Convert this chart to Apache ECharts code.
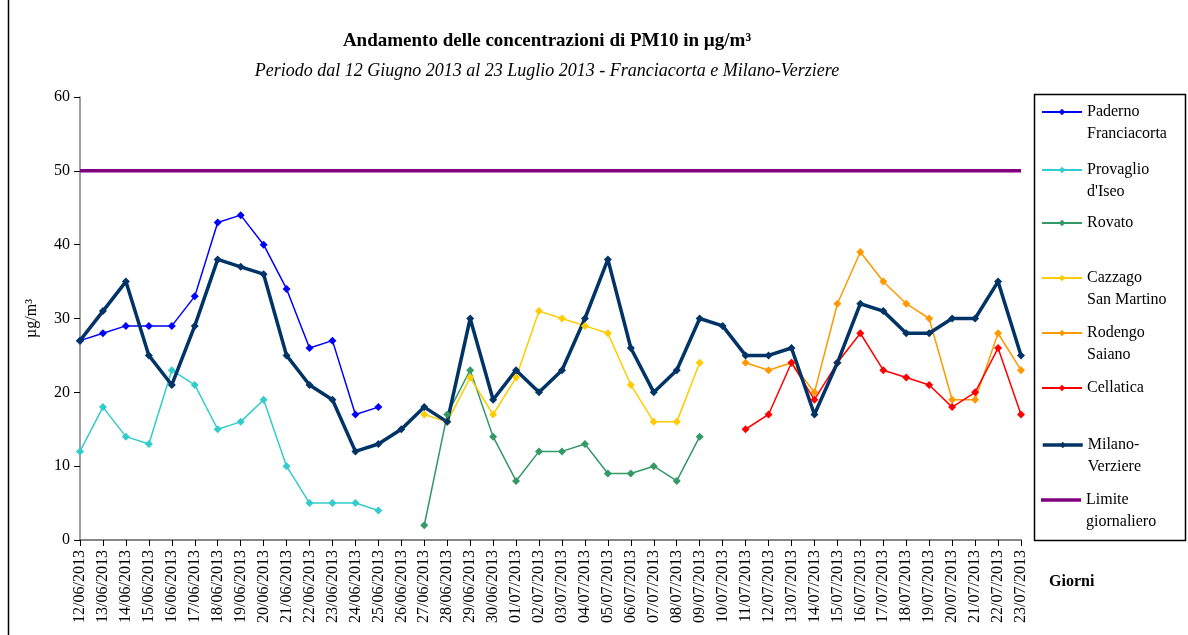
<!DOCTYPE html>
<html>
<head>
<meta charset="utf-8">
<script src="https://cdn.jsdelivr.net/npm/echarts@6/dist/echarts.min.js"></script>
<style>
  html, body { margin: 0; padding: 0; background: #fff; }
  #chartWrapper { width: 1188px; height: 635px; }
</style>
</head>
<body>
<div id="chartWrapper"></div>
<script>
// giorni 12/06/2013 - 23/07/2013
const giorni = [
    '12/06/2013', '13/06/2013', '14/06/2013', '15/06/2013', '16/06/2013', '17/06/2013', '18/06/2013',
    '19/06/2013', '20/06/2013', '21/06/2013', '22/06/2013', '23/06/2013', '24/06/2013', '25/06/2013',
    '26/06/2013', '27/06/2013', '28/06/2013', '29/06/2013', '30/06/2013', '01/07/2013', '02/07/2013',
    '03/07/2013', '04/07/2013', '05/07/2013', '06/07/2013', '07/07/2013', '08/07/2013', '09/07/2013',
    '10/07/2013', '11/07/2013', '12/07/2013', '13/07/2013', '14/07/2013', '15/07/2013', '16/07/2013',
    '17/07/2013', '18/07/2013', '19/07/2013', '20/07/2013', '21/07/2013', '22/07/2013', '23/07/2013'
];

const _ = null;
const paderno   = [27, 28, 29, 29, 29, 33, 43, 44, 40, 34, 26, 27, 17, 18, _, _, _, _, _, _, _, _, _, _, _, _, _, _, _, _, _, _, _, _, _, _, _, _, _, _, _, _];
const provaglio = [12, 18, 14, 13, 23, 21, 15, 16, 19, 10, 5, 5, 5, 4, _, _, _, _, _, _, _, _, _, _, _, _, _, _, _, _, _, _, _, _, _, _, _, _, _, _, _, _];
const rovato    = [_, _, _, _, _, _, _, _, _, _, _, _, _, _, _, 2, 17, 23, 14, 8, 12, 12, 13, 9, 9, 10, 8, 14, _, _, _, _, _, _, _, _, _, _, _, _, _, _];
const cazzago   = [_, _, _, _, _, _, _, _, _, _, _, _, _, _, _, 17, 16, 22, 17, 22, 31, 30, 29, 28, 21, 16, 16, 24, _, _, _, _, _, _, _, _, _, _, _, _, _, _];
const rodengo   = [_, _, _, _, _, _, _, _, _, _, _, _, _, _, _, _, _, _, _, _, _, _, _, _, _, _, _, _, _, 24, 23, 24, 20, 32, 39, 35, 32, 30, 19, 19, 28, 23];
const cellatica = [_, _, _, _, _, _, _, _, _, _, _, _, _, _, _, _, _, _, _, _, _, _, _, _, _, _, _, _, _, 15, 17, 24, 19, 24, 28, 23, 22, 21, 18, 20, 26, 17];
const milano    = [27, 31, 35, 25, 21, 29, 38, 37, 36, 25, 21, 19, 12, 13, 15, 18, 16, 30, 19, 23, 20, 23, 30, 38, 26, 20, 23, 30,
                   29, 25, 25, 26, 17, 24, 32, 31, 28, 28, 30, 30, 35, 25];
const limite    = giorni.map(function () { return 50; });

const yTicks = [0, 10, 20, 30, 40, 50, 60];

const serif = '"Liberation Serif", "DejaVu Serif", serif';

let myChart = echarts.init(document.getElementById('chartWrapper'));

function lineSeries(name, data, color, width) {
    return {
        name: name,
        type: 'line',
        data: data,
        symbol: 'diamond',
        symbolSize: 8,
        showSymbol: true,
        connectNulls: false,
        itemStyle: { color: color },
        lineStyle: { color: color, width: width },
        emphasis: { disabled: true },
        animation: false
    };
}

let seriesData = [
    lineSeries('Paderno\nFranciacorta', paderno, '#0000ff', 1.5),
    lineSeries("Provaglio\nd'Iseo", provaglio, '#33cccc', 1.5),
    lineSeries('Rovato', rovato, '#339966', 1.5),
    lineSeries('Cazzago\nSan Martino', cazzago, '#ffcc00', 1.5),
    lineSeries('Rodengo\nSaiano', rodengo, '#ff9900', 1.5),
    lineSeries('Cellatica', cellatica, '#ff0000', 1.5),
    lineSeries('Milano-\nVerziere', milano, '#003366', 3.5),
    {
        name: 'Limite\ngiornaliero',
        type: 'line',
        data: limite,
        symbol: 'none',
        itemStyle: { color: '#800080' },
        lineStyle: { color: '#800080', width: 3.5 },
        z: 1,
        animation: false
    }
];

// una legenda per voce, per avere la spaziatura uguale del grafico originale
const legendY = [112, 170, 223, 278, 333, 388, 445, 500];
const lineH = 22;
let legends = seriesData.map(function (s, i) {
    let twoLines = s.name.indexOf('\n') >= 0;
    let isLimit = i === seriesData.length - 1;
    let lg = {
        data: [s.name],
        orient: 'vertical',
        left: 1041,
        top: legendY[i] - (twoLines ? 1.5 * lineH : 0.5 * lineH),
        padding: 0,
        itemWidth: 40,
        itemHeight: isLimit ? 3.5 : 8,
        itemGap: 0,
        selectedMode: false,
        // riga vuota davanti: la prima riga del testo resta allineata al simbolo
        formatter: function (name) {
            return name.indexOf('\n') >= 0 ? ' \n' + name : name;
        },
        textStyle: {
            fontFamily: serif,
            fontSize: 16,
            color: '#000',
            lineHeight: lineH
        }
    };
    if (isLimit) lg.icon = 'rect';
    if (i === 6) lg.lineStyle = { width: 3.5 };
    return lg;
});

let option = {
    backgroundColor: '#fff',
    animation: false,
    title: [
        {
            text: 'Andamento delle concentrazioni di PM10 in µg/m³',
            left: 542,
            top: 27,
            textAlign: 'center',
            textStyle: { fontFamily: serif, fontSize: 19, fontWeight: 'bold', color: '#000' }
        },
        {
            text: 'Periodo dal 12 Giugno 2013 al 23 Luglio 2013 - Franciacorta e Milano-Verziere',
            left: 542,
            top: 57,
            textAlign: 'center',
            textStyle: { fontFamily: serif, fontSize: 18, fontStyle: 'italic', fontWeight: 'normal', color: '#000' }
        }
    ],
    legend: legends,
    grid: {
        left: 80,
        right: 167,
        top: 97,
        bottom: 95
    },
    xAxis: {
        type: 'category',
        data: giorni,
        boundaryGap: false,
        axisLine: { lineStyle: { color: '#606060', width: 1.5 } },
        axisTick: { show: true, interval: 0, length: 6, lineStyle: { color: '#000' } },
        axisLabel: {
            interval: 0,
            rotate: 90,
            margin: 10,
            fontFamily: serif,
            fontSize: 16,
            color: '#000'
        },
        splitLine: { show: false }
    },
    yAxis: {
        type: 'value',
        min: yTicks[0],
        max: yTicks[yTicks.length - 1],
        interval: 10,
        name: 'µg/m³',
        nameLocation: 'middle',
        nameRotate: 90,
        nameGap: 40,
        nameTextStyle: { fontFamily: serif, fontSize: 16, color: '#000' },
        axisLine: { show: true, lineStyle: { color: '#808080', width: 1.5 } },
        axisTick: { show: true, length: 6, lineStyle: { color: '#000' } },
        axisLabel: { fontFamily: serif, fontSize: 16, color: '#000', margin: 10 },
        splitLine: { show: false }
    },
    graphic: [
        {
            type: 'rect',
            shape: { x: 8.5, y: -10, width: 1200, height: 700 },
            style: { fill: 'none', stroke: '#000', lineWidth: 1.5 },
            silent: true
        },
        {
            type: 'rect',
            shape: { x: 1034.5, y: 94.5, width: 151, height: 446 },
            style: { fill: 'none', stroke: '#000', lineWidth: 1.5 },
            silent: true,
            z: -1
        },
        {
            type: 'text',
            left: 1049,
            top: 574,
            style: { text: 'Giorni', font: 'bold 16px ' + serif, fill: '#000' },
            silent: true
        }
    ],
    series: seriesData
};

myChart.setOption(option);
</script>
</body>
</html>
